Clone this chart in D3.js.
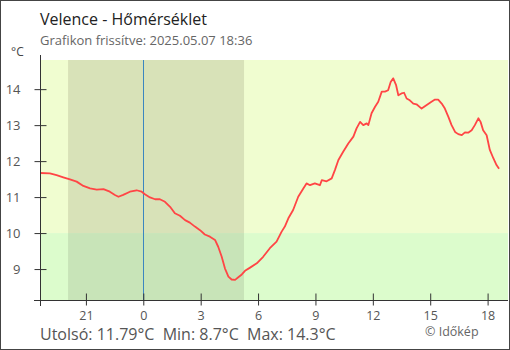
<!DOCTYPE html>
<html>
<head>
<meta charset="utf-8">
<script src="https://cdn.jsdelivr.net/npm/d3@7"></script>
<style>
  html, body { margin: 0; padding: 0; background: #fff; }
  svg { display: block; font-family: "Open Sans", "Noto Sans", sans-serif; }
</style>
</head>
<body>
<svg id="chart" width="510" height="350"></svg>
<script>
// Measurement times (local) and temperatures in °C
const times = [
  "2025-05-06 18:36","2025-05-06 19:07","2025-05-06 19:28","2025-05-06 19:49","2025-05-06 20:10",
  "2025-05-06 20:31","2025-05-06 20:52","2025-05-06 21:13","2025-05-06 21:34","2025-05-06 21:55",
  "2025-05-06 22:15","2025-05-06 22:31","2025-05-06 22:42","2025-05-06 22:57","2025-05-06 23:18",
  "2025-05-06 23:39","2025-05-06 23:55","2025-05-07 00:05","2025-05-07 00:21","2025-05-07 00:37",
  "2025-05-07 00:52","2025-05-07 01:08","2025-05-07 01:24","2025-05-07 01:39","2025-05-07 01:55",
  "2025-05-07 02:11","2025-05-07 02:26","2025-05-07 02:42","2025-05-07 02:58","2025-05-07 03:13",
  "2025-05-07 03:29","2025-05-07 03:45","2025-05-07 03:55","2025-05-07 04:06","2025-05-07 04:16",
  "2025-05-07 04:27","2025-05-07 04:37","2025-05-07 04:48","2025-05-07 04:58","2025-05-07 05:09",
  "2025-05-07 05:19","2025-05-07 05:35","2025-05-07 05:56","2025-05-07 06:16","2025-05-07 06:37",
  "2025-05-07 06:58","2025-05-07 07:14","2025-05-07 07:24","2025-05-07 07:35","2025-05-07 07:50",
  "2025-05-07 08:06","2025-05-07 08:22","2025-05-07 08:32","2025-05-07 08:43","2025-05-07 08:58",
  "2025-05-07 09:14","2025-05-07 09:20","2025-05-07 09:35","2025-05-07 09:51","2025-05-07 10:01",
  "2025-05-07 10:12","2025-05-07 10:27","2025-05-07 10:43","2025-05-07 10:59","2025-05-07 11:09",
  "2025-05-07 11:20","2025-05-07 11:30","2025-05-07 11:41","2025-05-07 11:46","2025-05-07 11:56",
  "2025-05-07 12:07","2025-05-07 12:17","2025-05-07 12:28","2025-05-07 12:38","2025-05-07 12:48",
  "2025-05-07 12:56","2025-05-07 13:04","2025-05-07 13:13","2025-05-07 13:20","2025-05-07 13:30",
  "2025-05-07 13:38","2025-05-07 13:46","2025-05-07 13:56","2025-05-07 14:07","2025-05-07 14:17",
  "2025-05-07 14:33","2025-05-07 14:49","2025-05-07 15:04","2025-05-07 15:15","2025-05-07 15:25",
  "2025-05-07 15:36","2025-05-07 15:46","2025-05-07 15:57","2025-05-07 16:07","2025-05-07 16:18",
  "2025-05-07 16:28","2025-05-07 16:39","2025-05-07 16:49","2025-05-07 16:59","2025-05-07 17:10",
  "2025-05-07 17:20","2025-05-07 17:31","2025-05-07 17:38","2025-05-07 17:46","2025-05-07 17:57",
  "2025-05-07 18:07","2025-05-07 18:18","2025-05-07 18:28","2025-05-07 18:36"
];
const temps = [
  11.67, 11.66, 11.61, 11.55, 11.49,
  11.43, 11.31, 11.24, 11.21, 11.22,
  11.15, 11.06, 11.01, 11.06, 11.15,
  11.19, 11.15, 11.08, 10.99, 10.94,
  10.94, 10.87, 10.73, 10.55, 10.48,
  10.36, 10.29, 10.18, 10.08, 9.96,
  9.90, 9.81, 9.62, 9.34, 9.02,
  8.79, 8.71, 8.70, 8.77, 8.85,
  8.95, 9.04, 9.16, 9.34, 9.58,
  9.76, 10.04, 10.18, 10.41, 10.64,
  11.01, 11.24, 11.38, 11.33, 11.38,
  11.33, 11.47, 11.44, 11.52, 11.75,
  12.03, 12.26, 12.49, 12.68, 12.91,
  13.09, 13.00, 13.05, 13.00, 13.33,
  13.51, 13.65, 13.93, 13.93, 13.97,
  14.20, 14.30, 14.11, 13.83, 13.88,
  13.90, 13.74, 13.69, 13.60, 13.58,
  13.46, 13.56, 13.65, 13.71, 13.71,
  13.60, 13.46, 13.23, 13.00, 12.81,
  12.75, 12.72, 12.80, 12.79, 12.86,
  13.00, 13.19, 13.09, 12.86, 12.72,
  12.31, 12.08, 11.89, 11.79
];

// Axis ticks
const yTicks = [9, 10, 11, 12, 13, 14];
const xTickTimes = ["2025-05-06 21:00","2025-05-07 00:00","2025-05-07 03:00","2025-05-07 06:00",
                    "2025-05-07 09:00","2025-05-07 12:00","2025-05-07 15:00","2025-05-07 18:00"];
const xTickLabels = ["21", "0", "3", "6", "9", "12", "15", "18"];

// Time window, sunset/sunrise and midnight
const xDomain = ["2025-05-06 18:36", "2025-05-07 19:04"];
const night = ["2025-05-06 20:04", "2025-05-07 05:16"];
const midnight = "2025-05-07 00:00";
const yDomain = [8.14, 14.81];
const threshold = 10;

const title = "Velence - Hőmérséklet";
const subtitle = "Grafikon frissítve: 2025.05.07 18:36";
const unit = "°C";
const summary = "Utolsó: 11.79°C  Min: 8.7°C  Max: 14.3°C";
const credit = "© Időkép";

const parse = d3.timeParse("%Y-%m-%d %H:%M");
const data = times.map((t, i) => ({ t: parse(t), v: temps[i] }));

const svg = d3.select("#chart");
const W = 510, H = 350;
const plot = { left: 40, right: 508, top: 60, bottom: 300 };

const x = d3.scaleTime().domain(xDomain.map(parse)).range([plot.left, plot.right]);
const y = d3.scaleLinear().domain(yDomain).range([plot.bottom, plot.top]);

// Outer frame
svg.append("rect").attr("x", 0.5).attr("y", 0.5).attr("width", W - 1).attr("height", H - 1)
  .attr("fill", "#fff").attr("stroke", "#444").attr("stroke-width", 1);

// Background bands: warm/cold split at 10 °C
const yT = y(threshold);
svg.append("rect").attr("x", plot.left).attr("y", plot.top)
  .attr("width", plot.right - plot.left).attr("height", yT - plot.top).attr("fill", "#f0fdd0");
svg.append("rect").attr("x", plot.left).attr("y", yT)
  .attr("width", plot.right - plot.left).attr("height", plot.bottom - yT).attr("fill", "#dcfccc");

// Night shading
const n0 = x(parse(night[0])), n1 = x(parse(night[1]));
svg.append("rect").attr("x", n0).attr("y", plot.top)
  .attr("width", n1 - n0).attr("height", yT - plot.top).attr("fill", "#d8e2b8");
svg.append("rect").attr("x", n0).attr("y", yT)
  .attr("width", n1 - n0).attr("height", plot.bottom - yT).attr("fill", "#c8e4b8");

// Midnight marker
const xm = Math.round(x(parse(midnight))) + 0.5;
svg.append("line").attr("x1", xm).attr("x2", xm).attr("y1", plot.top).attr("y2", plot.bottom)
  .attr("stroke", "#3b86c0").attr("stroke-width", 1);

// Temperature line
const line = d3.line().x(d => x(d.t)).y(d => y(d.v));
svg.append("path").datum(data).attr("d", line)
  .attr("fill", "none").attr("stroke", "#ff4545").attr("stroke-width", 1.8)
  .attr("stroke-linejoin", "round");

// Y axis
const yAxis = d3.axisLeft(y).tickValues(yTicks).tickSize(12).tickPadding(14).tickFormat(d3.format("d"));
const gy = svg.append("g").attr("transform", `translate(${plot.left + 6.5},0)`).call(yAxis);
gy.select(".domain").remove();
gy.selectAll(".tick line").attr("stroke", "#333");
gy.selectAll(".tick text").attr("fill", "#555").attr("font-size", 13)
  .attr("font-family", "'Open Sans', 'Noto Sans', sans-serif");
svg.append("line").attr("x1", plot.left + 0.5).attr("x2", plot.left + 0.5)
  .attr("y1", 55).attr("y2", 306).attr("stroke", "#333");

// X axis
const xAxis = d3.axisBottom(x).tickValues(xTickTimes.map(parse)).tickSize(12).tickPadding(6)
  .tickFormat((d, i) => xTickLabels[i]);
const gx = svg.append("g").attr("transform", `translate(0,${plot.bottom - 6.5})`).call(xAxis);
gx.select(".domain").remove();
gx.selectAll(".tick line").attr("stroke", "#333");
gx.selectAll(".tick text").attr("fill", "#555").attr("font-size", 12.5)
  .attr("font-family", "'Open Sans', 'Noto Sans', sans-serif");
svg.append("line").attr("x1", 34).attr("x2", plot.right)
  .attr("y1", plot.bottom + 0.5).attr("y2", plot.bottom + 0.5).attr("stroke", "#333");

// Texts
svg.append("text").attr("x", 40).attr("y", 25).attr("fill", "#222").attr("font-size", 16).text(title);
svg.append("text").attr("x", 40).attr("y", 45).attr("fill", "#666").attr("font-size", 13).text(subtitle);
svg.append("text").attr("x", 11).attr("y", 56).attr("fill", "#444").attr("font-size", 12).text(unit);
svg.append("text").attr("x", 40).attr("y", 340).attr("fill", "#555").attr("font-size", 16)
  .attr("xml:space", "preserve").style("white-space", "pre").text(summary);
svg.append("text").attr("x", 425).attr("y", 336).attr("fill", "#666").attr("font-size", 12.5).text(credit);
</script>
</body>
</html>
